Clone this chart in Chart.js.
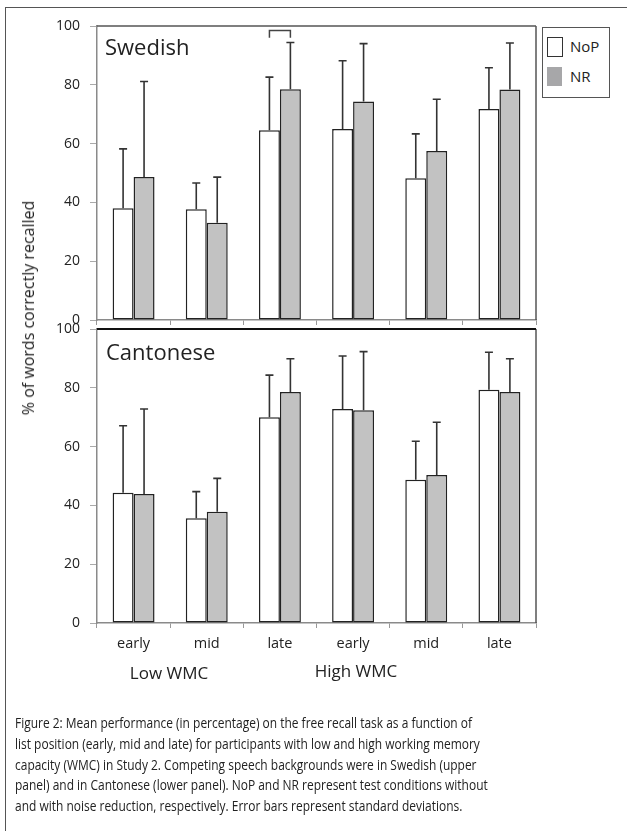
<!DOCTYPE html>
<html>
<head>
<meta charset="utf-8">
<script src="https://cdn.jsdelivr.net/npm/chart.js@4.4.1/dist/chart.umd.min.js"></script>
<style>
  html, body { margin: 0; padding: 0; background: #fff; }
  #wrap { position: relative; width: 627px; height: 831px; overflow: hidden; font-family: "Open Sans", sans-serif; color: #222; }
  canvas { position: absolute; left: 0; top: 0; }
  .frame { position: absolute; left: 5px; top: 7px; width: 640px; height: 840px; border-left: 1.5px solid #555; border-top: 1.5px solid #555; }
  .txt { position: absolute; white-space: nowrap; }
  .panel-title { font-size: 22px; }
  .legend { position: absolute; left: 542px; top: 27px; width: 66px; height: 69px; border: 1px solid #555; background: #fff; }
  .sw { position: absolute; left: 4px; width: 15px; height: 19px; }
  .lg { position: absolute; left: 27px; font-size: 15px; }
  .ytitle { position: absolute; left: 28px; top: 308px; font-size: 16px; transform: translate(-50%, -50%) rotate(-90deg); white-space: nowrap; }
  .group { font-size: 17px; transform: translateX(-50%); }
  .caption { position: absolute; left: 15px; font-size: 15px; transform-origin: 0 50%; white-space: nowrap; }
</style>
</head>
<body>
<div id="wrap">
  <div class="frame"></div>
  <canvas id="topChart" width="627" height="831"></canvas>
  <canvas id="bottomChart" width="627" height="831"></canvas>
  <div class="txt panel-title" style="left:105px; top:31px;">Swedish</div>
  <div class="txt panel-title" style="left:106px; top:336px;">Cantonese</div>
  <div class="legend">
    <div class="sw" style="top:9px; background:#fff; border:1px solid #333; width:14px; height:18px;"></div>
    <div class="lg" style="top:8px;">NoP</div>
    <div class="sw" style="top:39px; background:#a7a7a9;"></div>
    <div class="lg" style="top:38px;">NR</div>
  </div>
  <div class="ytitle">% of words correctly recalled</div>
  <div class="txt group" style="left:169px; top:661px;">Low WMC</div>
  <div class="txt group" style="left:356px; top:659px;">High WMC</div>
  <div id="caption"></div>
</div>
<script>
// list position within each WMC group
const categories = ['early', 'mid', 'late', 'early', 'mid', 'late'];
const groupLabels = ['Low WMC', 'High WMC'];

// Swedish background (upper panel)
const swedishNoP = [38.0, 37.7, 64.5, 65.0, 48.2, 71.8];
const swedishNoPSd = [20.2, 8.9, 18.1, 23.2, 15.1, 14.0];
const swedishNR = [48.6, 33.1, 78.5, 74.3, 57.5, 78.4];
const swedishNRSd = [32.5, 15.5, 15.9, 19.7, 17.6, 15.8];

// Cantonese background (lower panel)
const cantoneseNoP = [44.3, 35.6, 70.0, 72.8, 48.7, 79.3];
const cantoneseNoPSd = [22.8, 9.1, 14.3, 18.0, 13.1, 12.8];
const cantoneseNR = [43.9, 37.8, 78.6, 72.4, 50.3, 78.6];
const cantoneseNRSd = [28.9, 11.4, 11.3, 19.9, 18.0, 11.3];

const yMin = 0, yMax = 100, yStep = 20;

const captionLines = [
    'Figure 2: Mean performance (in percentage) on the free recall task as a function of',
    'list position (early, mid and late) for participants with low and high working memory',
    'capacity (WMC) in Study 2. Competing speech backgrounds were in Swedish (upper',
    'panel) and in Cantonese (lower panel). NoP and NR represent test conditions without',
    'and with noise reduction, respectively. Error bars represent standard deviations.'
];

// one-sided error bars drawn up from the bar top
const errorBars = {
    id: 'errorBars',
    afterDatasetsDraw(chart) {
        const ctx = chart.ctx;
        const y = chart.scales.y;
        ctx.save();
        ctx.strokeStyle = '#333';
        ctx.lineWidth = 1.6;
        chart.data.datasets.forEach((ds, i) => {
            chart.getDatasetMeta(i).data.forEach((bar, j) => {
                const top = y.getPixelForValue(ds.data[j] + ds.errors[j]);
                ctx.beginPath();
                ctx.moveTo(bar.x, bar.y);
                ctx.lineTo(bar.x, top);
                ctx.moveTo(bar.x - 4, top);
                ctx.lineTo(bar.x + 4, top);
                ctx.stroke();
            });
        });
        ctx.restore();
    }
};

// top and right edges of each panel
const panelFrame = {
    id: 'panelFrame',
    afterDraw(chart, args, opts) {
        const a = chart.chartArea;
        const ctx = chart.ctx;
        ctx.save();
        ctx.strokeStyle = '#555';
        ctx.lineWidth = 1.5;
        ctx.beginPath();
        ctx.moveTo(a.right, a.top);
        ctx.lineTo(a.right, a.bottom);
        ctx.stroke();
        ctx.strokeStyle = opts.topColor || '#555';
        ctx.lineWidth = opts.topWidth || 1.5;
        ctx.beginPath();
        ctx.moveTo(a.left, a.top);
        ctx.lineTo(a.right, a.top);
        ctx.stroke();
        // small bracket over one pair of bars
        if (opts.bracket !== undefined) {
            const i = opts.bracket;
            const x1 = chart.getDatasetMeta(0).data[i].x;
            const x2 = chart.getDatasetMeta(1).data[i].x;
            const y = chart.scales.y;
            const yt = y.getPixelForValue(98.5), yb = y.getPixelForValue(96);
            ctx.strokeStyle = '#444';
            ctx.lineWidth = 1.5;
            ctx.beginPath();
            ctx.moveTo(x1, yb);
            ctx.lineTo(x1, yt);
            ctx.lineTo(x2, yt);
            ctx.lineTo(x2, yb);
            ctx.stroke();
        }
        ctx.restore();
    }
};

function makePanel(id, noP, noPSd, nr, nrSd, o) {
    return new Chart(document.getElementById(id), {
        type: 'bar',
        data: {
            labels: categories,
            datasets: [{
                label: 'NoP',
                data: noP,
                errors: noPSd,
                backgroundColor: '#ffffff',
                borderColor: '#222',
                borderWidth: 1.5,
                borderSkipped: false
            }, {
                label: 'NR',
                data: nr,
                errors: nrSd,
                backgroundColor: '#c2c2c2',
                borderColor: '#222',
                borderWidth: 1.5,
                borderSkipped: false
            }]
        },
        options: {
            responsive: false,
            animation: false,
            events: [],
            categoryPercentage: 0.573,
            barPercentage: 1.0,
            layout: { padding: { top: o.top, right: 91, bottom: o.bottom, left: 0 } },
            plugins: {
                legend: { display: false },
                tooltip: { enabled: false },
                panelFrame: { topColor: o.topColor, topWidth: o.topWidth, bracket: o.bracket }
            },
            scales: {
                x: {
                    afterFit: s => { s.height = o.xHeight; },
                    grid: { offset: true, drawOnChartArea: false, drawTicks: true, tickLength: 5, color: '#999', lineWidth: 1 },
                    border: { color: '#8a8a8a', width: 1.5 },
                    ticks: { display: o.showX, color: '#222', padding: 7, font: { family: 'Open Sans', size: 14.5 }, maxRotation: 0 }
                },
                y: {
                    min: yMin,
                    max: yMax,
                    afterFit: s => { s.width = 97; },
                    grid: { drawOnChartArea: false, drawTicks: true, tickLength: 7, color: '#aaa' },
                    border: { color: '#8a8a8a', width: 1.5 },
                    ticks: { stepSize: yStep, color: '#222', padding: 10, font: { family: 'Open Sans', size: 14 } }
                }
            }
        },
        plugins: [errorBars, panelFrame]
    });
}

makePanel('topChart', swedishNoP, swedishNoPSd, swedishNR, swedishNRSd,
    { top: 26, bottom: 831 - 320 - 10, xHeight: 10, showX: false, topColor: '#555', topWidth: 1.5, bracket: 2 });
makePanel('bottomChart', cantoneseNoP, cantoneseNoPSd, cantoneseNR, cantoneseNRSd,
    { top: 329, bottom: 831 - 623 - 40, xHeight: 40, showX: true, topColor: '#111', topWidth: 2 });

// caption lines, squeezed to the narrow face of the original
const cap = document.getElementById('caption');
captionLines.forEach((line, i) => {
    const d = document.createElement('div');
    d.className = 'caption';
    d.style.top = (712 + i * 20.8) + 'px';
    d.textContent = line;
    cap.appendChild(d);
});
const first = cap.firstChild;
const k = 457 / first.getBoundingClientRect().width;
cap.querySelectorAll('.caption').forEach(d => { d.style.transform = 'scaleX(' + k + ')'; });
</script>
</body>
</html>
